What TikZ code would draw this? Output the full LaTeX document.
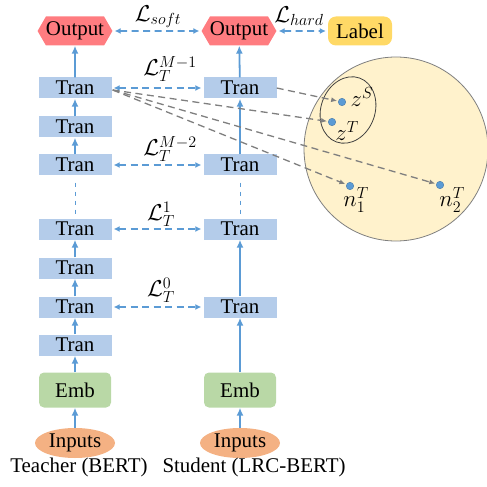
\documentclass[tikz,border=0pt]{standalone}
\usepackage{fix-cm}
\usepackage{fontspec}
\setmainfont{Liberation Serif}
\usetikzlibrary{shapes.symbols,shapes.geometric,arrows.meta}
\definecolor{tranc}{HTML}{B4CCEA}
\definecolor{embc}{HTML}{B9D8A6}
\definecolor{inc}{HTML}{F4B183}
\definecolor{outc}{HTML}{FF7C80}
\definecolor{labc}{HTML}{FFD966}
\definecolor{circc}{HTML}{FFF2CC}
\definecolor{bluec}{HTML}{5B9BD5}
\definecolor{grayc}{HTML}{7F7F7F}
\definecolor{ellc}{HTML}{404040}
\begin{document}
\begin{tikzpicture}[x=1bp,y=-1bp,
  font=\fontsize{21}{25}\selectfont,
  tranbox/.style={rectangle, fill=tranc, minimum width=73bp, minimum height=21bp, inner sep=0pt},
  embbox/.style={rectangle, rounded corners=5bp, fill=embc, minimum width=72bp, minimum height=35bp, inner sep=0pt},
  inbox/.style={ellipse, fill=inc, minimum width=80bp, minimum height=30bp, inner sep=0pt},
  outbox/.style={signal, signal to=west and east, signal pointer angle=120, fill=outc, minimum width=73bp, minimum height=29bp, inner sep=0pt},
  labbox/.style={rectangle, rounded corners=8bp, fill=labc, minimum width=64bp, minimum height=29bp, inner sep=0pt},
  up/.style={-{Latex[length=8bp,width=7bp]}, bluec, line width=1.8bp},
  loss/.style={{Latex[length=6bp,width=6bp]}-{Latex[length=6bp,width=6bp]}, bluec, line width=1.7bp, dash pattern=on 7bp off 4.5bp, shorten <=2bp, shorten >=2bp},
  proj/.style={-{Latex[length=6bp,width=5bp]}, grayc, line width=1.3bp, dash pattern=on 7bp off 4.5bp, shorten >=1bp},
  dotline/.style={bluec, line width=1bp, dash pattern=on 4bp off 5bp},
  dot/.style={circle, fill=bluec, draw=bluec!80!black, line width=0.4bp, minimum size=7.5bp, inner sep=0pt},
  lbl/.style={inner sep=0pt},
  mlbl/.style={inner sep=0pt, font=\fontsize{23}{27}\selectfont}
]
\useasboundingbox (0,0) rectangle (487,487);

% embedding space
\filldraw[fill=circc, draw=grayc, line width=0.8bp] (396,149) circle[radius=92bp];
\draw[ellc, line width=0.8bp, rotate around={-20:(348,110)}] (348,110) ellipse [x radius=27bp, y radius=34bp];

% teacher
\node[outbox] (tO) at (75,31) {Output};
\node[tranbox] (t7) at (75,88) {Tran};
\node[tranbox] (t6) at (75,127) {Tran};
\node[tranbox] (t5) at (75,165) {Tran};
\node[tranbox] (t4) at (75,229) {Tran};
\node[tranbox] (t3) at (75,268) {Tran};
\node[tranbox] (t2) at (75,307) {Tran};
\node[tranbox] (t1) at (75,345) {Tran};
\node[embbox] (tE) at (75,390) {Emb};
\node[inbox] (tI) at (75,443) {Inputs};

% student
\node[outbox] (sO) at (239,31) {Output};
\node[labbox] (lab) at (360,31) {Label};
\node[tranbox] (s4) at (240,88) {Tran};
\node[tranbox] (s3) at (240,165) {Tran};
\node[tranbox] (s2) at (240,229) {Tran};
\node[tranbox] (s1) at (240,307) {Tran};
\node[embbox] (sE) at (240,390) {Emb};
\node[inbox] (sI) at (240,443) {Inputs};

% vertical flow
\draw[up] (tI) -- (tE);
\draw[up] (tE) -- (t1);
\draw[up] (t1) -- (t2);
\draw[up] (t2) -- (t3);
\draw[up] (t3) -- (t4);
\draw[dotline, shorten <=7bp, shorten >=4bp] (t5.south) -- (t4.north);
\draw[up] (t5) -- (t6);
\draw[up] (t6) -- (t7);
\draw[up] (t7) -- (tO);

\draw[up] (sI) -- (sE);
\draw[up] (sE) -- (s1);
\draw[up] (s1) -- (s2);
\draw[dotline, shorten <=7bp, shorten >=4bp] (s3.south) -- (s2.north);
\draw[up] (s3) -- (s4);
\draw[up] (s4) -- (sO);

% losses
\draw[loss] (tO) -- (sO);
\draw[loss] (sO) -- (lab);
\draw[loss] (t7) -- (s4);
\draw[loss] (t5) -- (s3);
\draw[loss] (t4) -- (s2);
\draw[loss] (t2) -- (s1);

\node[mlbl] (Lsoft) at (158,17) {$\mathcal{L}_{soft}$};
\node[mlbl] (Lhard) at (299,16) {$\mathcal{L}_{hard}$};
\node[mlbl] (LM1) at (170,69) {$\mathcal{L}_T^{M-1}$};
\node[mlbl] (LM2) at (170,149) {$\mathcal{L}_T^{M-2}$};
\node[mlbl] (L1) at (161,214) {$\mathcal{L}_T^{1}$};
\node[mlbl] (L0) at (161,290) {$\mathcal{L}_T^{0}$};

% points
\node[dot] (zS) at (342,102) {};
\node[dot] (zT) at (332,122) {};
\node[dot] (n1) at (350,186) {};
\node[dot] (n2) at (440,185) {};
\node[mlbl] (zSl) at (362,97) {$z^S$};
\node[mlbl] (zTl) at (347,131) {$z^T$};
\node[mlbl] (n1l) at (356,200) {$n_1^T$};
\node[mlbl] (n2l) at (452,200) {$n_2^T$};

\coordinate (tsrc) at ([xshift=1bp,yshift=-2bp]t7.east);
\draw[proj] (tsrc) -- (zT);
\draw[proj] (tsrc) -- (n1);
\draw[proj] (tsrc) -- (n2);
\draw[proj] (s4.east) -- (zS);

% captions
\node[lbl] (capT) at (79,467) {Teacher (BERT)};
\node[lbl] (capS) at (254,467) {Student (LRC-BERT)};
\end{tikzpicture}
\end{document}
